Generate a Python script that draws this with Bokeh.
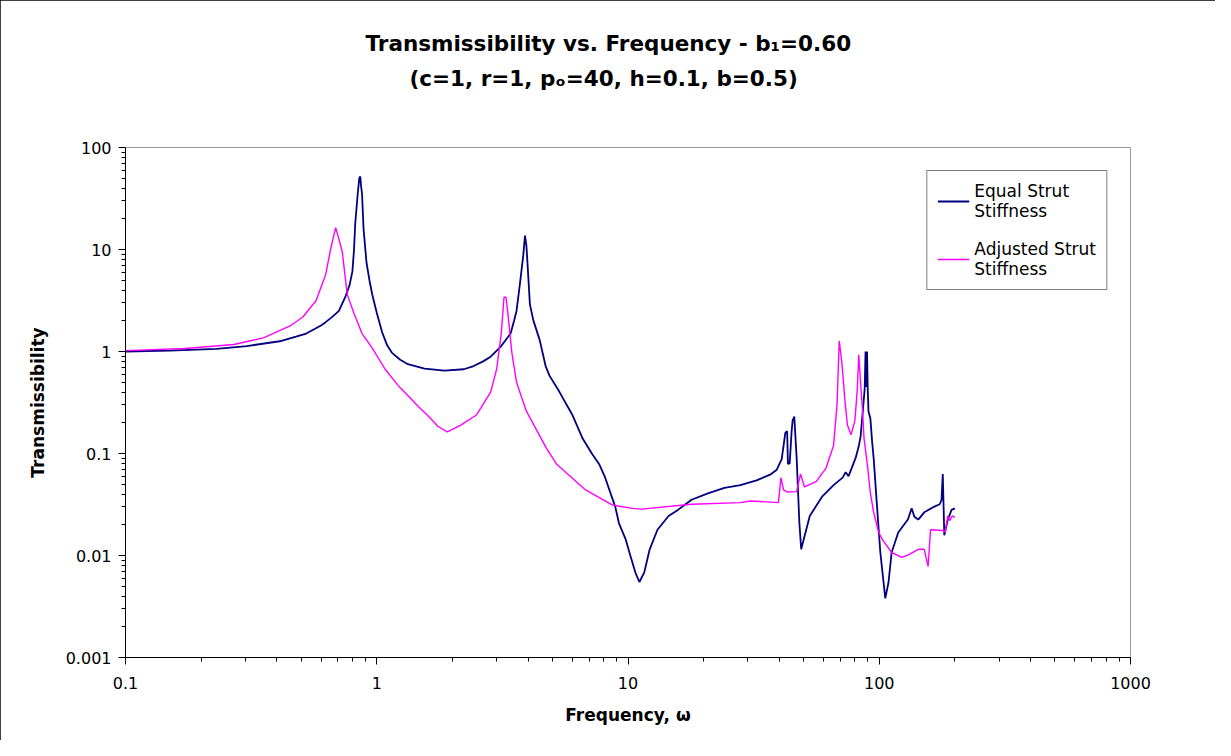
from bokeh.plotting import figure
from bokeh.models import FixedTicker, CustomJSTickFormatter, Title
from bokeh.embed import file_html
from bokeh.resources import INLINE

# ---- data ----
freq_equal = [0.1, 0.15, 0.23, 0.304, 0.411, 0.477, 0.524, 0.6, 0.626, 0.66, 0.707, 0.752, 0.78, 0.80,
              0.812, 0.821, 0.84, 0.852, 0.86, 0.866, 0.874, 0.886, 0.91, 0.935, 0.96, 1.0, 1.05, 1.1,
              1.15, 1.24, 1.33, 1.55, 1.86, 2.22, 2.43, 2.65, 2.84, 3.11, 3.3, 3.41, 3.52, 3.6, 3.71,
              3.83, 3.89, 3.94, 3.97, 4.07, 4.2, 4.45, 4.7, 4.87, 5.34, 6.0, 6.6, 7.2, 7.67, 8.1, 8.9,
              9.2, 9.8, 10.2, 10.7, 11.1, 11.6, 12.2, 13.1, 14.5, 15.8, 17.9, 20.8, 24.2, 28.0, 32.5,
              36.8, 39.1, 40.9, 42.3, 43.0, 43.3, 44.0, 44.8, 45.2, 45.9, 46.9, 48.1, 48.9, 50.0, 52.9,
              59.1, 65.8, 71.5, 73.5, 75.5, 80.6, 83.0, 84.3, 86.0, 87.5, 88.2, 88.8, 89.4, 90.0, 90.6,
              92.2, 93.7, 95, 98, 101, 105.7, 108.9, 112, 119, 130, 134.6, 138, 143, 151, 165, 174, 177,
              179, 181.5, 187.5, 194, 200]
t_equal = [1.0, 1.02, 1.06, 1.13, 1.26, 1.4, 1.5, 1.8, 1.94, 2.15, 2.5, 3.5, 4.5, 6.1,
           10, 18, 35, 50, 52, 42, 35, 16, 7.5, 5.0, 3.6, 2.4, 1.55, 1.15,
           0.97, 0.83, 0.75, 0.68, 0.65, 0.67, 0.72, 0.8, 0.89, 1.11, 1.35, 1.5, 2.0, 2.5, 4.5,
           8.8, 13.7, 11, 8.2, 2.9, 2.02, 1.3, 0.72, 0.58, 0.40, 0.24, 0.14, 0.099, 0.079, 0.0586, 0.030,
           0.0208, 0.0143, 0.0101, 0.0068, 0.0055, 0.0068, 0.0115, 0.0179, 0.0244, 0.028, 0.0352, 0.0406, 0.046, 0.0489, 0.0546,
           0.062, 0.0694, 0.088, 0.16, 0.165, 0.079, 0.08, 0.165, 0.21, 0.23, 0.091, 0.0208, 0.0115, 0.0143, 0.0244,
           0.0375, 0.049, 0.058, 0.0655, 0.06, 0.091, 0.12, 0.147, 0.26, 0.43, 1.0, 0.45, 1.0, 0.43, 0.26,
           0.22, 0.13, 0.09, 0.030, 0.0107, 0.0038, 0.0055, 0.0107, 0.0168, 0.0225, 0.029, 0.024, 0.0225, 0.0265, 0.03, 0.0318, 0.035,
           0.063, 0.0158, 0.0225, 0.028, 0.029]

freq_adj = [0.1, 0.172, 0.27, 0.354, 0.45, 0.508, 0.573, 0.626, 0.656, 0.686, 0.705, 0.729, 0.745,
            0.763, 0.81, 0.874, 0.96, 1.08, 1.22, 1.33, 1.46, 1.6, 1.75, 1.91, 2.16, 2.5, 2.84, 3.0,
            3.13, 3.21, 3.27, 3.33, 3.45, 3.6, 3.94, 4.72, 5.19, 6.78, 8.65, 10.4, 11.3, 17.9, 28,
            30.8, 39.7, 40.6, 41.6, 43, 46.9, 48.6, 50.4, 56.1, 61.4, 65.8, 67.9, 69.3, 71.0, 73.1,
            74.7, 77.2, 80.0, 81.8, 82.9, 84.3, 85.5, 87, 89.6, 92.2, 95, 99.5, 103, 112, 123, 130,
            143, 151, 156.5, 160, 179, 183, 187.5, 191, 195, 200]
t_adj = [1.02, 1.07, 1.17, 1.36, 1.77, 2.18, 3.14, 5.67, 10.2, 16.4, 13, 9.5, 6,
         3.63, 2.4, 1.5, 1.08, 0.67, 0.46, 0.37, 0.29, 0.235, 0.185, 0.163, 0.19, 0.24, 0.40, 0.67,
         1.5, 3.4, 3.4, 2.3, 0.97, 0.5, 0.26, 0.114, 0.079, 0.0439, 0.0313, 0.029, 0.0285, 0.0318, 0.033,
         0.0342, 0.033, 0.058, 0.0439, 0.042, 0.0423, 0.063, 0.047, 0.053, 0.072, 0.12, 0.30, 1.27, 0.78, 0.32,
         0.19, 0.153, 0.21, 0.43, 0.93, 0.49, 0.30, 0.14, 0.079, 0.041, 0.0265, 0.0168, 0.0143, 0.0107, 0.0096, 0.0101,
         0.0115, 0.0115, 0.0078, 0.0179, 0.0176, 0.017, 0.0244, 0.022, 0.0244, 0.0236]

x_ticks = [0.1, 1, 10, 100, 1000]
y_ticks = [0.001, 0.01, 0.1, 1, 10, 100]
x_minor = [m * 10.0 ** k for k in range(-1, 3) for m in range(2, 10)]
y_minor = [m * 10.0 ** k for k in range(-3, 2) for m in range(2, 10)]

title_line1 = "Transmissibility vs. Frequency - b\u2081=0.60"
title_line2 = "(c=1, r=1, p\u2092=40, h=0.1, b=0.5)"
label_equal = "Equal Strut\nStiffness"
label_adj = "Adjusted Strut\nStiffness"

FONT = "DejaVu Sans"

p = figure(width=1215, height=740, x_axis_type="log", y_axis_type="log",
           x_range=(0.1, 1000), y_range=(0.001, 100),
           output_backend="svg", toolbar_location=None,
           min_border_left=125, min_border_right=85, min_border_top=147, min_border_bottom=83)

p.background_fill_color = "white"
p.border_fill_color = "white"
p.outline_line_color = "#9a9a9a"
p.outline_line_width = 1
p.xgrid.visible = False
p.ygrid.visible = False
p.styles = {"outline": "2px solid black", "outline-offset": "-2px"}

p.line(freq_equal, t_equal, line_color="#000080", line_width=1.8, legend_label=label_equal)
p.line(freq_adj, t_adj, line_color="#FF00FF", line_width=1.4, legend_label=label_adj)

p.xaxis.ticker = FixedTicker(ticks=x_ticks, minor_ticks=x_minor)
p.yaxis.ticker = FixedTicker(ticks=y_ticks, minor_ticks=y_minor)
p.xaxis.formatter = CustomJSTickFormatter(code="return tick.toString()")
p.yaxis.formatter = CustomJSTickFormatter(code="return tick.toString()")

for ax in (p.xaxis[0], p.yaxis[0]):
    ax.axis_line_color = "black"
    ax.axis_line_width = 1
    ax.major_tick_line_color = "black"
    ax.minor_tick_line_color = "black"
    ax.major_tick_in = 0
    ax.major_tick_out = 7
    ax.minor_tick_in = 0
    ax.minor_tick_out = 4
    ax.major_label_text_font = FONT
    ax.major_label_text_font_size = "16px"
    ax.major_label_text_color = "black"
    ax.axis_label_text_font = FONT
    ax.axis_label_text_font_size = "17px"
    ax.axis_label_text_font_style = "bold"
    ax.axis_label_text_color = "black"

p.xaxis.axis_label = "Frequency, \u03c9"
p.yaxis.axis_label = "Transmissibility"
p.xaxis.major_label_standoff = 12
p.xaxis.axis_label_standoff = 13
p.yaxis.major_label_standoff = 7
p.yaxis.axis_label_standoff = 15

lg = p.legend[0]
lg.location = "top_right"
lg.margin = 23
lg.border_line_color = "black"
lg.border_line_width = 1
lg.background_fill_color = "white"
lg.background_fill_alpha = 1
lg.label_text_font = FONT
lg.label_text_font_size = "17px"
lg.label_text_color = "black"
lg.glyph_width = 32
lg.label_standoff = 5
lg.padding = 10
lg.spacing = 18

# titles: a blank spacer closest to the frame, then the two title lines
spacer = Title(text=" ", standoff=30, text_font=FONT, text_font_size="21.5px")
t2 = Title(text=title_line2, align="left", offset=284, standoff=0,
           text_font=FONT, text_font_size="21.5px", text_font_style="bold", text_color="black")
t1 = Title(text=title_line1, align="left", offset=240, standoff=15,
           text_font=FONT, text_font_size="21.5px", text_font_style="bold", text_color="black")
p.add_layout(spacer, "above")
p.add_layout(t2, "above")
p.add_layout(t1, "above")

open("out.html", "w").write(file_html(p, INLINE))
